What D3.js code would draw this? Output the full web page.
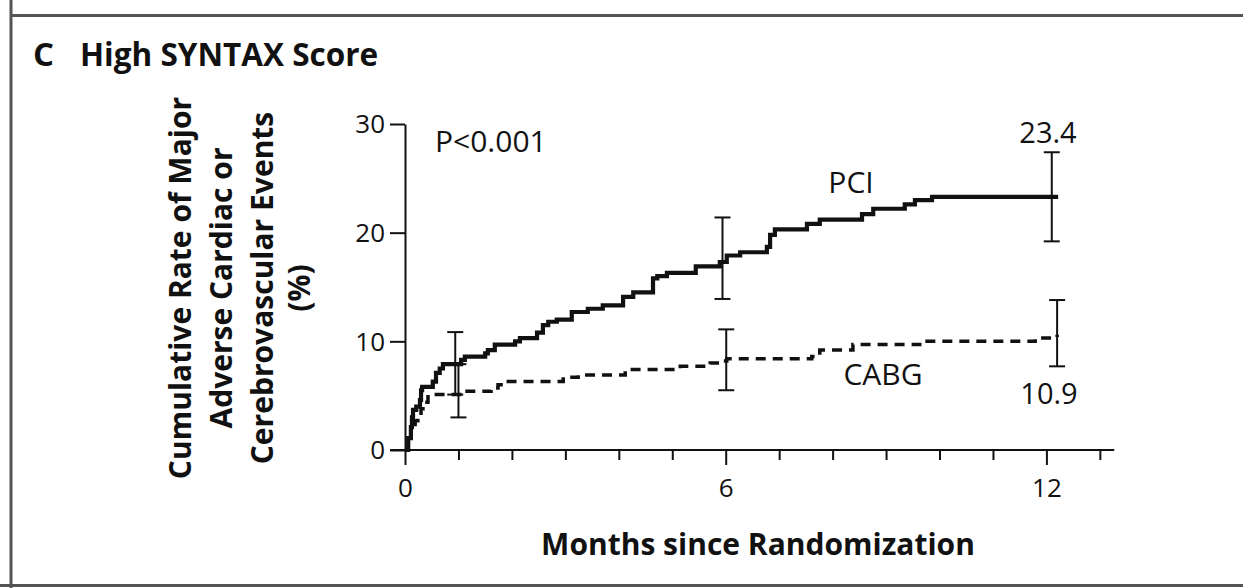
<!DOCTYPE html>
<html>
<head>
<meta charset="utf-8">
<script src="https://cdn.jsdelivr.net/npm/d3@7"></script>
<style>
  html, body { margin: 0; padding: 0; background: #ffffff; }
  svg { display: block; }
  text { font-family: "Open Sans", "Noto Sans", sans-serif; fill: #111; }
</style>
</head>
<body>
<svg id="chart" width="1243" height="588"></svg>
<script>
// ---------- DATA ----------
const panelLetter = "C";
const panelTitle = "High SYNTAX Score";
const xTitle = "Months since Randomization";
const yTitleLines = ["Cumulative Rate of Major", "Adverse Cardiac or", "Cerebrovascular Events", "(%)"];
const pValueText = "P<0.001";

const xTickValues = [0,1,2,3,4,5,6,7,8,9,10,11,12,13];
const xTickLabels = [0, 6, 12];
const yTickValues = [0, 10, 20, 30];

// PCI (solid) Kaplan-Meier steps: months, cumulative rate (%)
const pciMonths = [0, 0.06, 0.11, 0.13, 0.15, 0.21, 0.28, 0.30, 0.32, 0.52, 0.58, 0.65, 0.71, 1.05, 1.12, 1.50, 1.55, 1.68, 2.06, 2.15, 2.47, 2.58, 2.68, 2.84, 3.12, 3.42, 3.70, 4.08, 4.27, 4.64, 4.72, 4.90, 5.44, 5.89, 6.02, 6.27, 6.77, 6.83, 6.92, 7.52, 7.76, 8.55, 8.76, 9.35, 9.54, 9.86, 12.22];
const pciRates  = [0, 1.1, 2.1, 3.0, 3.7, 4.0, 4.6, 5.5, 5.8, 6.3, 7.1, 7.5, 7.9, 8.3, 8.6, 8.9, 9.2, 9.7, 10.0, 10.3, 10.8, 11.5, 11.8, 12.0, 12.7, 13.0, 13.3, 14.1, 14.5, 15.8, 16.0, 16.3, 16.9, 17.3, 17.9, 18.2, 18.7, 19.8, 20.3, 20.8, 21.2, 21.7, 22.2, 22.6, 23.0, 23.3, 23.3];

// CABG (dashed)
const cabgMonths = [0, 0.06, 0.11, 0.19, 0.24, 0.30, 0.37, 0.43, 0.52, 1.12, 1.61, 1.74, 1.83, 2.96, 3.24, 4.12, 5.15, 5.71, 5.89, 6.02, 7.61, 7.76, 8.38, 9.63, 11.79, 12.20];
const cabgRates  = [0, 0.9, 1.8, 2.7, 3.2, 3.8, 4.4, 4.9, 5.1, 5.4, 5.7, 6.0, 6.3, 6.7, 6.9, 7.4, 7.7, 8.0, 8.2, 8.4, 8.6, 9.2, 9.7, 10.0, 10.3, 10.6];

// 95% confidence interval bars
const pciBarMonths = [0.94, 5.94, 12.10];
const pciBarLow    = [5.1, 13.9, 19.2];
const pciBarHigh   = [10.85, 21.4, 27.4];
const cabgBarMonths = [1.00, 6.01, 12.20];
const cabgBarLow    = [3.0, 5.5, 7.7];
const cabgBarHigh   = [7.9, 11.1, 13.8];

// Labels
const seriesNames = ["PCI", "CABG"];
const endValues = ["23.4", "10.9"];

// ---------- DRAWING ----------
const svg = d3.select("#chart");
const ink = "#111";

const x = d3.scaleLinear().domain([0, 13.27]).range([405, 1114.3]);
const y = d3.scaleLinear().domain([0, 30]).range([450, 124]);

// Frame
const frame = svg.append("g").attr("stroke", "#555").attr("stroke-width", 3).attr("fill", "none");
frame.append("line").attr("x1", 11).attr("x2", 1243).attr("y1", 15.5).attr("y2", 15.5);
frame.append("line").attr("x1", 11).attr("x2", 11).attr("y1", 0).attr("y2", 588);
frame.append("line").attr("x1", 0).attr("x2", 1243).attr("y1", 585.5).attr("y2", 585.5);

// Title
svg.append("text").attr("x", 33).attr("y", 66).attr("font-weight", 700).attr("font-size", 33).text(panelLetter);
svg.append("text").attr("x", 80).attr("y", 66).attr("font-weight", 700).attr("font-size", 31.5).text(panelTitle);

// X axis
const gx = svg.append("g").attr("transform", `translate(0,${y(0)})`);
gx.call(d3.axisBottom(x).tickValues(xTickValues).tickSize(10).tickSizeOuter(0)
  .tickFormat(d => xTickLabels.includes(d) ? d : ""));
gx.select(".domain").remove();
gx.append("line").attr("x1", 390).attr("x2", x.range()[1]).attr("stroke", ink).attr("stroke-width", 2);
gx.selectAll(".tick line").attr("stroke", ink).attr("stroke-width", 2)
  .attr("y2", d => xTickLabels.includes(d) ? 15 : 10);
gx.selectAll(".tick text").attr("font-size", 26).attr("fill", ink).attr("dy", null).attr("y", 47)
  .style("font-family", "'Open Sans', sans-serif");

// Y axis
const gy = svg.append("g").attr("transform", `translate(${x(0)},0)`);
gy.call(d3.axisLeft(y).tickValues(yTickValues).tickSize(15).tickSizeOuter(0));
gy.select(".domain").attr("stroke", ink).attr("stroke-width", 2);
gy.selectAll(".tick line").attr("stroke", ink).attr("stroke-width", 2);
gy.selectAll(".tick text").attr("font-size", 26).attr("fill", ink).attr("x", -20).attr("dy", "0.34em")
  .style("font-family", "'Open Sans', sans-serif");

// Axis titles
svg.append("text").attr("x", 758).attr("y", 555).attr("text-anchor", "middle")
  .attr("font-weight", 700).attr("font-size", 30).text(xTitle);
const yBaselines = [191, 232, 273, 310];
yTitleLines.forEach((t, i) => {
  svg.append("text")
    .attr("transform", `translate(${yBaselines[i]},288) rotate(-90)`)
    .attr("text-anchor", "middle").attr("font-weight", 700).attr("font-size", 30).text(t);
});

// Curves
const line = d3.line().x(d => x(d[0])).y(d => y(d[1])).curve(d3.curveStepAfter);
const pciData = pciMonths.map((m, i) => [m, pciRates[i]]);
const cabgData = cabgMonths.map((m, i) => [m, cabgRates[i]]);

svg.append("path").datum(cabgData).attr("d", line).attr("fill", "none")
  .attr("stroke", ink).attr("stroke-width", 3.5).attr("stroke-dasharray", "10,7");
svg.append("path").datum(pciData).attr("d", line).attr("fill", "none")
  .attr("stroke", ink).attr("stroke-width", 4.2).attr("stroke-linejoin", "miter");

// Error bars
function bars(months, lows, highs) {
  const g = svg.append("g").attr("stroke", ink).attr("stroke-width", 2);
  months.forEach((m, i) => {
    const cx = x(m);
    g.append("line").attr("x1", cx).attr("x2", cx).attr("y1", y(lows[i])).attr("y2", y(highs[i]));
    g.append("line").attr("x1", cx - 8).attr("x2", cx + 8).attr("y1", y(lows[i])).attr("y2", y(lows[i]));
    g.append("line").attr("x1", cx - 8).attr("x2", cx + 8).attr("y1", y(highs[i])).attr("y2", y(highs[i]));
  });
}
bars(pciBarMonths, pciBarLow, pciBarHigh);
bars(cabgBarMonths, cabgBarLow, cabgBarHigh);

// Annotations
svg.append("text").attr("x", 435).attr("y", 152).attr("font-size", 30).text(pValueText);
svg.append("text").attr("x", 851).attr("y", 193).attr("text-anchor", "middle").attr("font-size", 30).text(seriesNames[0]);
svg.append("text").attr("x", 883).attr("y", 385).attr("text-anchor", "middle").attr("font-size", 30).text(seriesNames[1]);
svg.append("text").attr("x", 1048).attr("y", 143).attr("text-anchor", "middle").attr("font-size", 29).text(endValues[0]);
svg.append("text").attr("x", 1049).attr("y", 404).attr("text-anchor", "middle").attr("font-size", 29).text(endValues[1]);
</script>
</body>
</html>
